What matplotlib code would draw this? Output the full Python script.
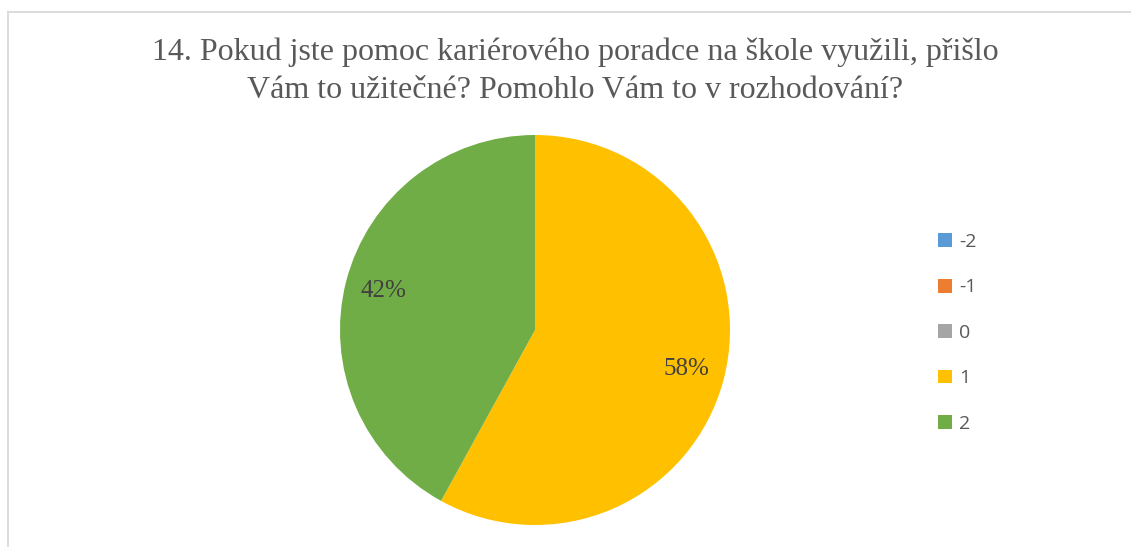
import matplotlib
matplotlib.use("Agg")
import matplotlib.pyplot as plt
from matplotlib.lines import Line2D
import numpy as np

categories = ["-2", "-1", "0", "1", "2"]
values = [0, 0, 0, 58, 42]
colors = ["#5B9BD5", "#ED7D31", "#A5A5A5", "#FFC000", "#70AD47"]
title_lines = ["14. Pokud jste pomoc kariérového poradce na škole využili, přišlo",
               "Vám to užitečné? Pomohlo Vám to v rozhodování?"]

W, H = 1131, 547
fig = plt.figure(figsize=(W / 100, H / 100), dpi=100)
fig.patch.set_facecolor("white")

# chart border (partly cropped)
fig.add_artist(Line2D([7.5 / W, 7.5 / W], [0, 1 - 11.5 / H], transform=fig.transFigure,
                      color="#D9D9D9", lw=1.3))
fig.add_artist(Line2D([7.5 / W, 1], [1 - 11.5 / H, 1 - 11.5 / H], transform=fig.transFigure,
                      color="#D9D9D9", lw=1.3))

cx, cy, r = 535, 330, 195
ax = fig.add_axes([(cx - r) / W, (H - cy - r) / H, 2 * r / W, 2 * r / H])
wedges, _ = ax.pie(values, colors=colors, startangle=90, counterclock=False,
                   wedgeprops=dict(linewidth=0))
ax.set_xlim(-1, 1)
ax.set_ylim(-1, 1)
ax.set_aspect("equal")

total = sum(values)
start = 90.0
for v in values:
    if v > 0:
        mid = np.deg2rad(start - 360 * v / total / 2)
        ax.text(0.80 * np.cos(mid), 0.80 * np.sin(mid), f"{round(100 * v / total)}%",
                ha="center", va="center", fontsize=18, family="Liberation Serif",
                color="#404040")
    start -= 360 * v / total

fig.text(575 / W, 1 - 60 / H, title_lines[0], ha="center", va="baseline",
         fontsize=23, family="Liberation Serif", color="#595959")
fig.text(575 / W, 1 - 98 / H, title_lines[1], ha="center", va="baseline",
         fontsize=23, family="Liberation Serif", color="#595959")

leg = fig.legend(wedges, categories, loc="upper left",
                 bbox_to_anchor=(938 / W, 1 - 233 / H), frameon=False,
                 prop=dict(family="Open Sans", size=14),
                 labelcolor="#595959", handlelength=0.72, handleheight=0.72,
                 handletextpad=0.35, labelspacing=1.41, borderpad=0, borderaxespad=0)

fig.savefig("out.png", dpi=100)
